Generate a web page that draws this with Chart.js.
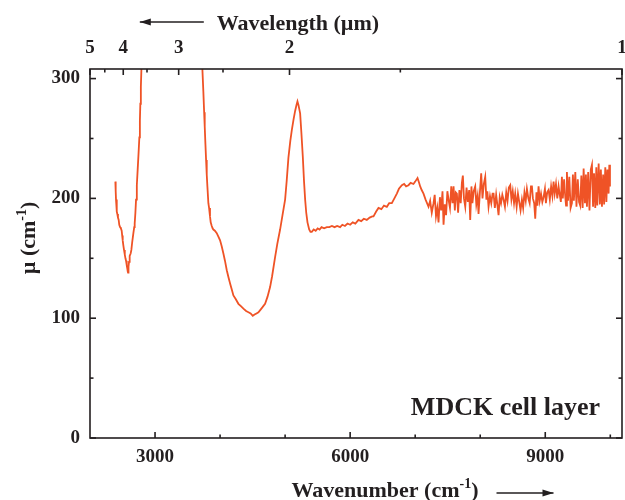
<!DOCTYPE html>
<html>
<head>
<meta charset="utf-8">
<title>MDCK cell layer</title>
<script src="https://cdn.jsdelivr.net/npm/chart.js@4.4.1/dist/chart.umd.min.js"></script>
<style>
  html, body { margin: 0; padding: 0; background: #fff; }
  #wrap { width: 625px; height: 500px; }
</style>
</head>
<body>
<div id="wrap"><canvas id="chart"></canvas></div>
<script>
// spectrum: wavenumber (cm-1) and mu (cm-1)
// left branch, before the 3 um water band
const wnLow = [2390, 2395, 2400, 2408, 2415, 2420, 2430, 2441, 2450, 2462, 2475, 2487, 2495, 2503, 2512,
  2523, 2535, 2545, 2554, 2565, 2575, 2580, 2585, 2592, 2600, 2605, 2615, 2625, 2636, 2650, 2667, 2680,
  2687, 2698, 2708, 2720, 2733, 2746, 2759, 2767, 2774, 2782, 2790, 2800];
const muLow = [214, 206, 199, 193, 189, 187, 184, 182, 178, 176, 175, 173, 169, 165, 161,
  157, 153, 150, 148, 144, 141, 139, 138, 143, 147, 149, 152, 154, 157, 164, 171, 176,
  179, 188, 199, 211, 224, 237, 251, 265, 279, 293, 307, 330];

// smooth part, 3 um band edge to 7200
const wnMid = [3720, 3728, 3743, 3755, 3764, 3775, 3785, 3795, 3805, 3820, 3831, 3845, 3856, 3872, 3885,
  3897, 3920, 3949, 3974, 4000, 4025, 4051, 4075, 4103, 4130, 4154, 4180, 4205, 4240, 4282, 4320, 4359,
  4400, 4436, 4470, 4503, 4530, 4560, 4590, 4620, 4650, 4692, 4730, 4769, 4800, 4846, 4880, 4923, 4960,
  5000, 5025, 5051, 5080, 5103, 5130, 5154, 5175, 5190, 5205, 5231, 5250, 5272, 5290, 5308, 5325, 5344,
  5370, 5390, 5410, 5440, 5470, 5500, 5530, 5560, 5600, 5641, 5680, 5720, 5760, 5800, 5846, 5880, 5920,
  5960, 6000, 6040, 6080, 6128, 6170, 6210, 6256, 6300, 6340, 6359, 6400, 6436, 6480, 6520, 6564, 6600,
  6641, 6680, 6718, 6750, 6795, 6830, 6860, 6897, 6930, 6974, 7000, 7036, 7060, 7077, 7100, 7128, 7160, 7205];
const muMid = [330, 308, 289, 272, 260, 245, 232, 220, 210, 196, 192, 185, 180, 177, 175,
  174, 173, 171, 168, 165, 160, 154, 148, 140, 134, 129, 124, 119, 116, 112, 110, 108,
  106, 105, 104, 102, 103, 104, 105, 107, 109, 112, 118, 126, 135, 151, 162, 174, 186,
  199, 215, 234, 248, 257, 266, 273, 278, 281, 278, 271, 255, 235, 215, 199, 188, 180,
  174, 172, 172, 174, 173, 175, 174, 176, 175, 176, 176, 177, 176, 177, 176, 178, 177,
  179, 178, 180, 179, 182, 181, 183, 182, 184, 185, 185, 189, 192, 191, 194, 193, 196,
  196, 200, 204, 208, 211, 212, 210, 211, 213, 212, 214, 217, 213, 210, 207, 204, 199, 193];

// noisy part up to 10000
const wnHigh = [7230, 7255, 7282, 7300, 7320, 7340, 7359, 7380, 7400, 7420, 7436, 7455, 7475, 7495, 7513,
  7535, 7555, 7575, 7590, 7610, 7625, 7641, 7660, 7680, 7700, 7718, 7733, 7750, 7770, 7790, 7810, 7830,
  7846, 7865, 7880, 7900, 7923, 7940, 7960, 7974, 7995, 8015, 8035, 8055, 8077, 8095, 8110, 8128, 8150,
  8170, 8190, 8205, 8225, 8245, 8265, 8282, 8300, 8320, 8340, 8359, 8380, 8400, 8420, 8440, 8462, 8480,
  8500, 8520, 8538, 8560, 8580, 8600, 8620, 8641, 8660, 8680, 8700, 8718, 8740, 8760, 8780, 8795, 8810,
  8830, 8846, 8865, 8880, 8897, 8915, 8935, 8955, 8974, 8995, 9010, 9030, 9051, 9070, 9090, 9110, 9128,
  9145, 9165, 9185, 9205, 9220, 9240, 9256, 9270, 9290, 9308, 9320, 9333, 9350, 9370, 9390, 9410, 9425,
  9440, 9462, 9480, 9500, 9520, 9538, 9555, 9575, 9590, 9610, 9625, 9641, 9660, 9680, 9700, 9718, 9735,
  9750, 9769, 9785, 9800, 9821, 9840, 9855, 9872, 9890, 9905, 9923, 9940, 9955, 9974, 9985, 9995];
const muHigh = [198, 188, 196, 203, 185, 192, 180, 201, 190, 206, 178, 195, 186, 206, 199,
  192, 210, 196, 210, 190, 205, 204, 188, 207, 196, 213, 219, 200, 193, 209, 197, 207,
  182, 210, 196, 206, 210, 195, 202, 187, 205, 221, 200, 212, 218, 199, 206, 193, 202,
  196, 204, 204, 192, 203, 194, 186, 201, 196, 203, 199, 193, 205, 198, 209, 211, 199,
  206, 196, 204, 193, 204, 197, 190, 199, 192, 205, 198, 208, 200, 196, 210, 210, 200,
  196, 183, 205, 194, 210, 198, 204, 197, 201, 208, 196, 205, 207, 199, 210, 202, 214,
  204, 212, 200, 210, 204, 197, 218, 200, 216, 201, 194, 222, 198, 218, 192, 196, 220,
  198, 222, 193, 216, 197, 194, 219, 192, 225, 196, 220, 193, 222, 190, 224, 228, 193,
  221, 192, 226, 194, 229, 195, 224, 193, 220, 195, 226, 197, 224, 204, 228, 210];

// axis ticks
const wnMajor = [3000, 6000, 9000];
const wnMinor = [4000, 5000, 7000, 8000, 10000];
const lambdaMajor = [5, 4, 3, 2, 1];
const lambdaMinor = [4.5, 3.5, 2.5, 1.5];
const muMajor = [0, 100, 200, 300];
const muMinor = [50, 150, 250];

const SERIF = '"Liberation Serif", "Times New Roman", serif';
const INK = '#231f20';
const LINE = '#ef5326';

function toPoints(xs, ys) {
  return xs.map((x, i) => ({ x: x, y: ys[i] }));
}
const spectrum = toPoints(wnLow, muLow)
  .concat([{ x: 3260, y: null }])
  .concat(toPoints(wnMid, muMid))
  .concat(toPoints(wnHigh, muHigh));

// text with superscript parts, parts = [[text, isSup], ...]
function drawRich(ctx, parts, cx, y) {
  const main = 'bold 22px ' + SERIF;
  const sup = 'bold 14px ' + SERIF;
  let total = 0;
  parts.forEach(p => { ctx.font = p[1] ? sup : main; total += ctx.measureText(p[0]).width; });
  let x = cx - total / 2;
  ctx.textAlign = 'left';
  ctx.textBaseline = 'alphabetic';
  parts.forEach(p => {
    ctx.font = p[1] ? sup : main;
    ctx.fillText(p[0], x, p[1] ? y - 9 : y);
    x += ctx.measureText(p[0]).width;
  });
  return { left: cx - total / 2, right: cx + total / 2 };
}

function arrow(ctx, x1, x2, y) {
  ctx.beginPath();
  ctx.moveTo(x1, y);
  ctx.lineTo(x2, y);
  ctx.stroke();
  const d = Math.sign(x2 - x1);
  ctx.beginPath();
  ctx.moveTo(x2, y);
  ctx.lineTo(x2 - d * 11, y - 3.5);
  ctx.lineTo(x2 - d * 11, y + 3.5);
  ctx.closePath();
  ctx.fill();
}

// frame, inward ticks, titles and the label
const decor = {
  id: 'decor',
  afterDraw(chart) {
    const { ctx, chartArea: a, scales } = chart;
    ctx.save();
    ctx.strokeStyle = INK;
    ctx.fillStyle = INK;
    ctx.lineWidth = 1.6;
    ctx.strokeRect(a.left, a.top, a.right - a.left, a.bottom - a.top);

    const seg = (x1, y1, x2, y2) => { ctx.beginPath(); ctx.moveTo(x1, y1); ctx.lineTo(x2, y2); ctx.stroke(); };
    const BIG = 6, SMALL = 3.5;
    wnMajor.forEach(v => { const x = scales.x.getPixelForValue(v); seg(x, a.bottom, x, a.bottom - BIG); });
    wnMinor.forEach(v => { const x = scales.x.getPixelForValue(v); seg(x, a.bottom, x, a.bottom - SMALL); });
    lambdaMajor.forEach(l => { const x = scales.x2.getPixelForValue(10000 / l); seg(x, a.top, x, a.top + BIG); });
    lambdaMinor.forEach(l => { const x = scales.x2.getPixelForValue(10000 / l); seg(x, a.top, x, a.top + SMALL); });
    muMajor.forEach(v => {
      const y = scales.y.getPixelForValue(v);
      seg(a.left, y, a.left + BIG, y);
      seg(a.right, y, a.right - BIG, y);
    });
    muMinor.forEach(v => {
      const y = scales.y.getPixelForValue(v);
      seg(a.left, y, a.left + SMALL, y);
      seg(a.right, y, a.right - SMALL, y);
    });

    // top title
    ctx.lineWidth = 1.3;
    const top = drawRich(ctx, [['Wavelength (\u00b5m)', false]], 298, 30);
    arrow(ctx, top.left - 13, top.left - 77, 22);

    // bottom title
    const bot = drawRich(ctx, [['Wavenumber (cm', false], ['-1', true], [')', false]], 385, 497);
    arrow(ctx, bot.right + 18, bot.right + 75, 493);

    // y title
    ctx.save();
    ctx.translate(35, 238);
    ctx.rotate(-Math.PI / 2);
    drawRich(ctx, [['\u00b5 (cm', false], ['-1', true], [')', false]], 0, 0);
    ctx.restore();

    // sample label
    ctx.font = 'bold 26px ' + SERIF;
    ctx.textAlign = 'right';
    ctx.textBaseline = 'alphabetic';
    ctx.fillText('MDCK cell layer', a.right - 22, 415);
    ctx.restore();
  }
};

const tickFont = { family: SERIF, size: 19, weight: 'bold' };

// keep the plot box fixed, labels may hang over the edges
function noPad(s) {
  s.paddingLeft = 0;
  s.paddingRight = 0;
  s.paddingTop = 0;
  s.paddingBottom = 0;
}

new Chart(document.getElementById('chart'), {
  type: 'line',
  data: {
    datasets: [{
      data: spectrum,
      borderColor: LINE,
      borderWidth: 1.8,
      pointRadius: 0,
      tension: 0,
      spanGaps: false,
      xAxisID: 'x',
      yAxisID: 'y'
    }]
  },
  options: {
    responsive: true,
    maintainAspectRatio: false,
    animation: false,
    layout: { padding: { left: 0, right: 3, top: 0, bottom: 0 } },
    plugins: { legend: { display: false }, tooltip: { enabled: false } },
    scales: {
      x: {
        type: 'linear',
        position: 'bottom',
        min: 2000,
        max: 10180,
        grid: { display: false, drawTicks: false },
        border: { display: false },
        afterBuildTicks: s => { s.ticks = wnMajor.map(v => ({ value: v })); },
        afterFit: s => { s.height = 62; noPad(s); },
        ticks: { autoSkip: false, maxRotation: 0, padding: 8, color: INK, font: tickFont,
          callback: v => String(v) }
      },
      x2: {
        type: 'linear',
        position: 'top',
        min: 2000,
        max: 10000,
        grid: { display: false, drawTicks: false },
        border: { display: false },
        afterBuildTicks: s => { s.ticks = lambdaMajor.map(l => ({ value: 10000 / l })); },
        afterFit: s => { s.height = 69; noPad(s); },
        ticks: { autoSkip: false, maxRotation: 0, padding: 10, color: INK, font: tickFont,
          callback: (v, i) => String(lambdaMajor[i]) }
      },
      y: {
        type: 'linear',
        position: 'left',
        min: 0,
        max: 308,
        grid: { display: false, drawTicks: false },
        border: { display: false },
        afterBuildTicks: s => { s.ticks = muMajor.map(v => ({ value: v })); },
        afterFit: s => { s.width = 90; noPad(s); },
        ticks: { autoSkip: false, padding: 10, color: INK, font: tickFont,
          callback: v => String(v) }
      }
    }
  },
  plugins: [decor]
});
</script>
</body>
</html>
